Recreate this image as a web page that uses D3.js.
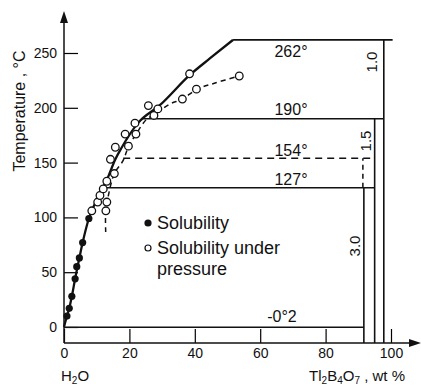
<!DOCTYPE html>
<html>
<head>
<meta charset="utf-8">
<script src="https://cdn.jsdelivr.net/npm/d3@7.9.0/dist/d3.min.js"></script>
<style>
  body { margin: 0; background: #fff; }
  svg { display: block; font-family: "Liberation Sans", Arial, sans-serif; }
</style>
</head>
<body>
<svg id="chart" width="421" height="387"></svg>
<script>
// Tl2B4O7 - H2O phase diagram

const xTicks = [0, 20, 40, 60, 80, 100];
const yTicks = [0, 50, 100, 150, 200, 250];

// solubility (filled dots), wt% / °C
const solubility = [
  [0.9, 10], [1.6, 17], [2.4, 28], [3.4, 44], [3.9, 55],
  [4.7, 63], [5.7, 77], [7.6, 99],
];

// solubility under pressure (open circles)
const pressure = [
  [8.5, 106], [10.3, 114], [11.0, 120], [12.0, 126], [12.8, 106],
  [13.1, 114], [13.1, 133], [15.4, 140], [14.2, 153], [15.7, 164],
  [19.7, 165], [18.7, 176], [22.0, 176], [21.7, 186], [27.5, 193],
  [25.8, 202], [28.7, 199], [36.2, 208], [38.4, 231], [40.5, 217],
  [53.6, 229],
];

// solid liquidus curve
const liquidus = [
  [0, 0], [0.9, 10], [1.6, 17], [2.4, 28], [3.4, 44], [4.7, 63],
  [5.7, 77], [7.6, 99], [10.4, 118.6], [13.5, 137], [15.6, 152.4],
  [17.7, 164], [22.6, 186], [29.4, 202.6], [38.5, 230], [44.6, 245],
  [51.7, 262],
];

// dashed metastable curve
const metastable = [
  [12.75, 86.7], [12.75, 105.8], [13.3, 116], [15.4, 140], [18.1, 152],
  [19.7, 164.5], [22.2, 176.7], [25.1, 189], [27.8, 194.3], [32.4, 203.5],
  [36.2, 208], [40.7, 217], [46.2, 222.6], [53.5, 229],
];

// invariant temperatures: [temp, from, to, label, dashed]
const isotherms = [
  [262, 51.7, 100.5, "262°", false],
  [190, 24.2, 97.8, "190°", false],
  [154, 18.1, 95, "154°", true],
  [127, 11.8, 95, "127°", false],
  [-0.2, 0, 91.7, "-0°2", false],
];

// hydrate composition lines: [wt%, top temp, label]
const hydrates = [
  [97.8, 262, "1.0"],
  [95, 190, "1.5"],
  [91.7, 127, "3.0"],
];

const svg = d3.select("#chart");

const x = d3.scaleLinear().domain([0, 100]).range([64, 391]);
const y = d3.scaleLinear().domain([0, 250]).range([327, 53]);
const yBase = y.invert(343);

const line = d3.line().x((d) => x(d[0])).y((d) => y(d[1]));

// axes with inward ticks
const yAxis = svg.append("g")
  .attr("transform", `translate(${x(0)},0)`)
  .call(d3.axisLeft(y).tickValues(yTicks).tickSize(-14).tickPadding(7));
yAxis.select(".domain").remove();
yAxis.selectAll("line").attr("stroke-width", 1.2);
yAxis.selectAll("text").attr("font-size", 14).attr("fill", "#111")
  .attr("font-family", "Liberation Sans Narrow, Liberation Sans, sans-serif");

const xAxis = svg.append("g")
  .attr("transform", `translate(0,${y(yBase)})`)
  .call(d3.axisBottom(x).tickValues(xTicks).tickSize(-14).tickPadding(5));
xAxis.select(".domain").remove();
xAxis.selectAll("line").attr("stroke-width", 1.2);
xAxis.selectAll("text").attr("font-size", 14).attr("fill", "#111");

// axis lines with arrows
svg.append("line")
  .attr("x1", x(0)).attr("x2", x(0))
  .attr("y1", y(yBase)).attr("y2", 20)
  .attr("stroke", "#111").attr("stroke-width", 1.5);
svg.append("path")
  .attr("d", `M${x(0)},11 L${x(0) - 4},23 L${x(0) + 4},23 Z`)
  .attr("fill", "#111");
svg.append("line")
  .attr("x1", x(0)).attr("x2", 412)
  .attr("y1", y(yBase)).attr("y2", y(yBase))
  .attr("stroke", "#111").attr("stroke-width", 1.5);
svg.append("path")
  .attr("d", `M421,${y(yBase)} L409,${y(yBase) - 4} L409,${y(yBase) + 4} Z`)
  .attr("fill", "#111");

// isotherms
svg.selectAll(".iso")
  .data(isotherms)
  .enter()
  .append("line")
  .attr("x1", (d) => x(d[1]))
  .attr("x2", (d) => x(d[2]))
  .attr("y1", (d) => y(d[0]))
  .attr("y2", (d) => y(d[0]))
  .attr("stroke", "#111")
  .attr("stroke-width", 1.6)
  .attr("stroke-dasharray", (d) => (d[4] ? "7,5" : null));

const isoLabelY = { "262°": 57, "190°": 115, "154°": 156, "127°": 185, "-0°2": 322 };
svg.selectAll(".isolabel")
  .data(isotherms)
  .enter()
  .append("text")
  .attr("x", (d) => (d[0] < 0 ? 282 : 291))
  .attr("y", (d) => isoLabelY[d[3]])
  .attr("text-anchor", "middle")
  .attr("font-size", 16)
  .attr("fill", "#111")
  .text((d) => d[3]);

// hydrate verticals
svg.selectAll(".hyd")
  .data(hydrates)
  .enter()
  .append("line")
  .attr("x1", (d) => x(d[0]))
  .attr("x2", (d) => x(d[0]))
  .attr("y1", y(yBase))
  .attr("y2", (d) => y(d[1]))
  .attr("stroke", "#111")
  .attr("stroke-width", 1.6);

// dashed extension of 3.0 line between 127° and 154°
svg.append("line")
  .attr("x1", x(91.4)).attr("x2", x(91.4))
  .attr("y1", y(127)).attr("y2", y(154))
  .attr("stroke", "#111").attr("stroke-width", 1.5)
  .attr("stroke-dasharray", "5,4");

const hydLabelPos = { "1.0": [377, 62], "1.5": [371, 141], "3.0": [360, 246] };
svg.selectAll(".hydlabel")
  .data(hydrates)
  .enter()
  .append("text")
  .attr("transform", (d) => `translate(${hydLabelPos[d[2]][0]},${hydLabelPos[d[2]][1]}) rotate(-90)`)
  .attr("text-anchor", "middle")
  .attr("font-size", 15)
  .attr("fill", "#111")
  .text((d) => d[2]);

// curves
svg.append("path")
  .datum(liquidus)
  .attr("d", line.curve(d3.curveMonotoneX))
  .attr("fill", "none")
  .attr("stroke", "#111")
  .attr("stroke-width", 2.3);

svg.append("path")
  .datum(metastable)
  .attr("d", line.curve(d3.curveCatmullRom))
  .attr("fill", "none")
  .attr("stroke", "#111")
  .attr("stroke-width", 1.5)
  .attr("stroke-dasharray", "5,4");

// points
svg.selectAll(".sol")
  .data(solubility)
  .enter()
  .append("circle")
  .attr("cx", (d) => x(d[0]))
  .attr("cy", (d) => y(d[1]))
  .attr("r", 3.6)
  .attr("fill", "#111");

svg.selectAll(".pres")
  .data(pressure)
  .enter()
  .append("circle")
  .attr("cx", (d) => x(d[0]))
  .attr("cy", (d) => y(d[1]))
  .attr("r", 3.8)
  .attr("fill", "#fff")
  .attr("stroke", "#111")
  .attr("stroke-width", 1.3);

// legend
svg.append("circle").attr("cx", 148).attr("cy", 223).attr("r", 3.6).attr("fill", "#111");
svg.append("circle").attr("cx", 148).attr("cy", 248).attr("r", 3)
  .attr("fill", "#fff").attr("stroke", "#111").attr("stroke-width", 1.2);
const legend = svg.append("g").attr("font-size", 18).attr("fill", "#111");
legend.append("text").attr("x", 157).attr("y", 229).text("Solubility");
legend.append("text").attr("x", 157).attr("y", 254).text("Solubility under");
legend.append("text").attr("x", 157).attr("y", 275).text("pressure");

// axis titles
svg.append("text")
  .attr("transform", "translate(25,111) rotate(-90)")
  .attr("text-anchor", "middle")
  .attr("font-size", 16)
  .attr("fill", "#111")
  .text("Temperature , °C");

svg.append("text")
  .attr("x", 61).attr("y", 381)
  .attr("font-size", 15).attr("fill", "#111")
  .html('H<tspan font-size="10" dy="3">2</tspan><tspan dy="-3">O</tspan>');

svg.append("text")
  .attr("x", 405).attr("y", 381)
  .attr("text-anchor", "end")
  .attr("font-size", 15).attr("fill", "#111")
  .html('Tl<tspan font-size="10" dy="3">2</tspan><tspan dy="-3">B</tspan><tspan font-size="10" dy="3">4</tspan><tspan dy="-3">O</tspan><tspan font-size="10" dy="3">7</tspan><tspan dy="-3"> , wt %</tspan>');
</script>
</body>
</html>
